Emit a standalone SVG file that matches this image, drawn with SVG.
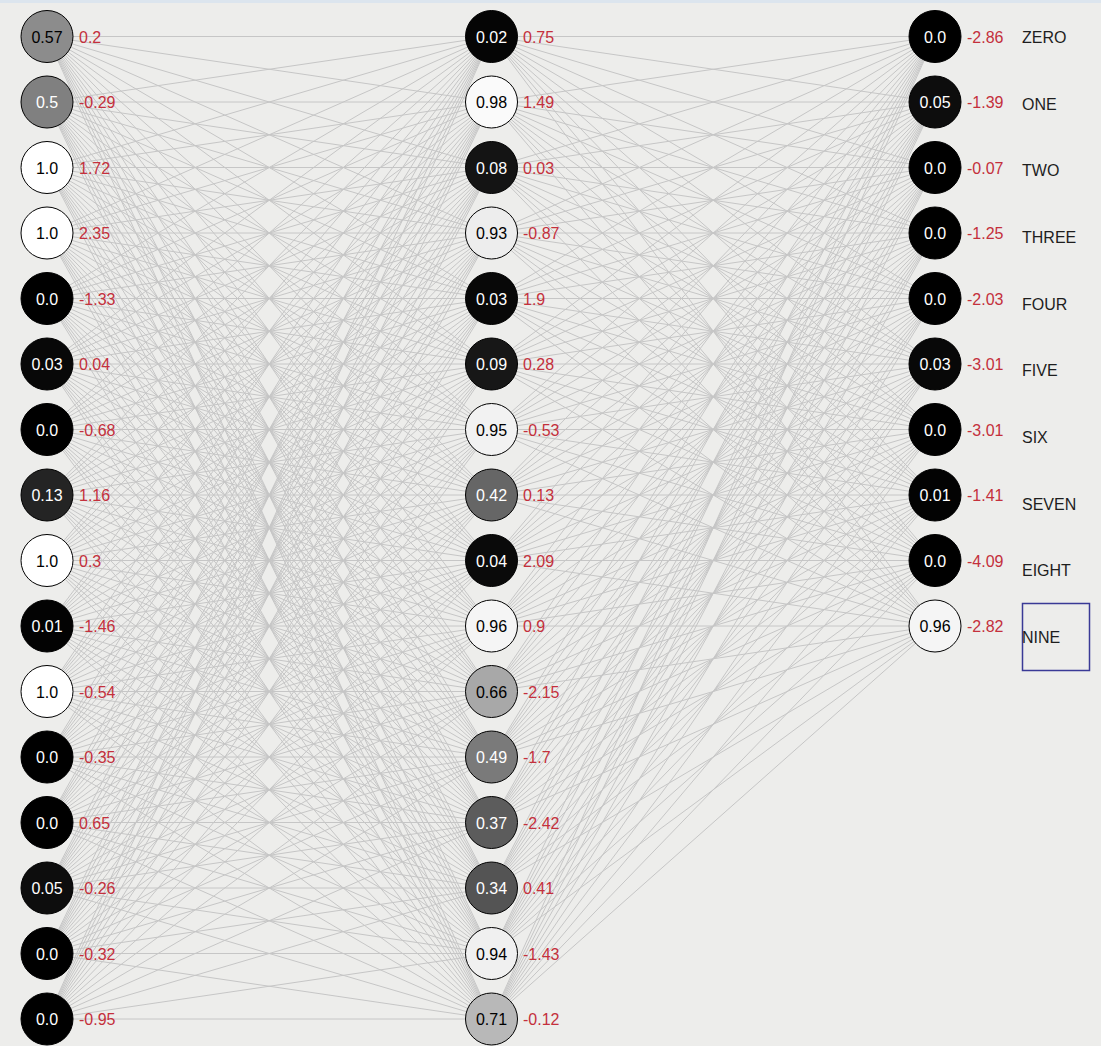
<svg xmlns="http://www.w3.org/2000/svg" width="1101" height="1046" viewBox="0 0 1101 1046">
<style>
text{font-family:"Liberation Sans",Arial,sans-serif;font-size:16px}
.n{stroke:#000;stroke-width:1}
.v{text-anchor:middle}
.w{fill:#fff}
.k{fill:#000}
.b{fill:#c4303c}
.l{fill:#1e1e1e}
.e{fill:none;stroke:#c6c6c6;stroke-width:1}
</style>
<rect width="1101" height="1046" fill="#ededeb"/>
<rect width="1101" height="3" fill="#dce5ee"/>
<g id="connectors" class="e">
<path d="M47 36.5L491.5 36.5M47 36.5L491.5 102M47 36.5L491.5 167.5M47 36.5L491.5 233M47 36.5L491.5 298.5M47 36.5L491.5 364M47 36.5L491.5 429.5M47 36.5L491.5 495M47 36.5L491.5 560.5M47 36.5L491.5 626M47 36.5L491.5 691.5M47 36.5L491.5 757M47 36.5L491.5 822.5M47 36.5L491.5 888M47 36.5L491.5 953.5M47 36.5L491.5 1019"/>
<path d="M47 102L491.5 36.5M47 102L491.5 102M47 102L491.5 167.5M47 102L491.5 233M47 102L491.5 298.5M47 102L491.5 364M47 102L491.5 429.5M47 102L491.5 495M47 102L491.5 560.5M47 102L491.5 626M47 102L491.5 691.5M47 102L491.5 757M47 102L491.5 822.5M47 102L491.5 888M47 102L491.5 953.5M47 102L491.5 1019"/>
<path d="M47 167.5L491.5 36.5M47 167.5L491.5 102M47 167.5L491.5 167.5M47 167.5L491.5 233M47 167.5L491.5 298.5M47 167.5L491.5 364M47 167.5L491.5 429.5M47 167.5L491.5 495M47 167.5L491.5 560.5M47 167.5L491.5 626M47 167.5L491.5 691.5M47 167.5L491.5 757M47 167.5L491.5 822.5M47 167.5L491.5 888M47 167.5L491.5 953.5M47 167.5L491.5 1019"/>
<path d="M47 233L491.5 36.5M47 233L491.5 102M47 233L491.5 167.5M47 233L491.5 233M47 233L491.5 298.5M47 233L491.5 364M47 233L491.5 429.5M47 233L491.5 495M47 233L491.5 560.5M47 233L491.5 626M47 233L491.5 691.5M47 233L491.5 757M47 233L491.5 822.5M47 233L491.5 888M47 233L491.5 953.5M47 233L491.5 1019"/>
<path d="M47 298.5L491.5 36.5M47 298.5L491.5 102M47 298.5L491.5 167.5M47 298.5L491.5 233M47 298.5L491.5 298.5M47 298.5L491.5 364M47 298.5L491.5 429.5M47 298.5L491.5 495M47 298.5L491.5 560.5M47 298.5L491.5 626M47 298.5L491.5 691.5M47 298.5L491.5 757M47 298.5L491.5 822.5M47 298.5L491.5 888M47 298.5L491.5 953.5M47 298.5L491.5 1019"/>
<path d="M47 364L491.5 36.5M47 364L491.5 102M47 364L491.5 167.5M47 364L491.5 233M47 364L491.5 298.5M47 364L491.5 364M47 364L491.5 429.5M47 364L491.5 495M47 364L491.5 560.5M47 364L491.5 626M47 364L491.5 691.5M47 364L491.5 757M47 364L491.5 822.5M47 364L491.5 888M47 364L491.5 953.5M47 364L491.5 1019"/>
<path d="M47 429.5L491.5 36.5M47 429.5L491.5 102M47 429.5L491.5 167.5M47 429.5L491.5 233M47 429.5L491.5 298.5M47 429.5L491.5 364M47 429.5L491.5 429.5M47 429.5L491.5 495M47 429.5L491.5 560.5M47 429.5L491.5 626M47 429.5L491.5 691.5M47 429.5L491.5 757M47 429.5L491.5 822.5M47 429.5L491.5 888M47 429.5L491.5 953.5M47 429.5L491.5 1019"/>
<path d="M47 495L491.5 36.5M47 495L491.5 102M47 495L491.5 167.5M47 495L491.5 233M47 495L491.5 298.5M47 495L491.5 364M47 495L491.5 429.5M47 495L491.5 495M47 495L491.5 560.5M47 495L491.5 626M47 495L491.5 691.5M47 495L491.5 757M47 495L491.5 822.5M47 495L491.5 888M47 495L491.5 953.5M47 495L491.5 1019"/>
<path d="M47 560.5L491.5 36.5M47 560.5L491.5 102M47 560.5L491.5 167.5M47 560.5L491.5 233M47 560.5L491.5 298.5M47 560.5L491.5 364M47 560.5L491.5 429.5M47 560.5L491.5 495M47 560.5L491.5 560.5M47 560.5L491.5 626M47 560.5L491.5 691.5M47 560.5L491.5 757M47 560.5L491.5 822.5M47 560.5L491.5 888M47 560.5L491.5 953.5M47 560.5L491.5 1019"/>
<path d="M47 626L491.5 36.5M47 626L491.5 102M47 626L491.5 167.5M47 626L491.5 233M47 626L491.5 298.5M47 626L491.5 364M47 626L491.5 429.5M47 626L491.5 495M47 626L491.5 560.5M47 626L491.5 626M47 626L491.5 691.5M47 626L491.5 757M47 626L491.5 822.5M47 626L491.5 888M47 626L491.5 953.5M47 626L491.5 1019"/>
<path d="M47 691.5L491.5 36.5M47 691.5L491.5 102M47 691.5L491.5 167.5M47 691.5L491.5 233M47 691.5L491.5 298.5M47 691.5L491.5 364M47 691.5L491.5 429.5M47 691.5L491.5 495M47 691.5L491.5 560.5M47 691.5L491.5 626M47 691.5L491.5 691.5M47 691.5L491.5 757M47 691.5L491.5 822.5M47 691.5L491.5 888M47 691.5L491.5 953.5M47 691.5L491.5 1019"/>
<path d="M47 757L491.5 36.5M47 757L491.5 102M47 757L491.5 167.5M47 757L491.5 233M47 757L491.5 298.5M47 757L491.5 364M47 757L491.5 429.5M47 757L491.5 495M47 757L491.5 560.5M47 757L491.5 626M47 757L491.5 691.5M47 757L491.5 757M47 757L491.5 822.5M47 757L491.5 888M47 757L491.5 953.5M47 757L491.5 1019"/>
<path d="M47 822.5L491.5 36.5M47 822.5L491.5 102M47 822.5L491.5 167.5M47 822.5L491.5 233M47 822.5L491.5 298.5M47 822.5L491.5 364M47 822.5L491.5 429.5M47 822.5L491.5 495M47 822.5L491.5 560.5M47 822.5L491.5 626M47 822.5L491.5 691.5M47 822.5L491.5 757M47 822.5L491.5 822.5M47 822.5L491.5 888M47 822.5L491.5 953.5M47 822.5L491.5 1019"/>
<path d="M47 888L491.5 36.5M47 888L491.5 102M47 888L491.5 167.5M47 888L491.5 233M47 888L491.5 298.5M47 888L491.5 364M47 888L491.5 429.5M47 888L491.5 495M47 888L491.5 560.5M47 888L491.5 626M47 888L491.5 691.5M47 888L491.5 757M47 888L491.5 822.5M47 888L491.5 888M47 888L491.5 953.5M47 888L491.5 1019"/>
<path d="M47 953.5L491.5 36.5M47 953.5L491.5 102M47 953.5L491.5 167.5M47 953.5L491.5 233M47 953.5L491.5 298.5M47 953.5L491.5 364M47 953.5L491.5 429.5M47 953.5L491.5 495M47 953.5L491.5 560.5M47 953.5L491.5 626M47 953.5L491.5 691.5M47 953.5L491.5 757M47 953.5L491.5 822.5M47 953.5L491.5 888M47 953.5L491.5 953.5M47 953.5L491.5 1019"/>
<path d="M47 1019L491.5 36.5M47 1019L491.5 102M47 1019L491.5 167.5M47 1019L491.5 233M47 1019L491.5 298.5M47 1019L491.5 364M47 1019L491.5 429.5M47 1019L491.5 495M47 1019L491.5 560.5M47 1019L491.5 626M47 1019L491.5 691.5M47 1019L491.5 757M47 1019L491.5 822.5M47 1019L491.5 888M47 1019L491.5 953.5M47 1019L491.5 1019"/>
<path d="M491.5 36.5L935 36.5M491.5 36.5L935 102M491.5 36.5L935 167.5M491.5 36.5L935 233M491.5 36.5L935 298.5M491.5 36.5L935 364M491.5 36.5L935 429.5M491.5 36.5L935 495M491.5 36.5L935 560.5M491.5 36.5L935 626"/>
<path d="M491.5 102L935 36.5M491.5 102L935 102M491.5 102L935 167.5M491.5 102L935 233M491.5 102L935 298.5M491.5 102L935 364M491.5 102L935 429.5M491.5 102L935 495M491.5 102L935 560.5M491.5 102L935 626"/>
<path d="M491.5 167.5L935 36.5M491.5 167.5L935 102M491.5 167.5L935 167.5M491.5 167.5L935 233M491.5 167.5L935 298.5M491.5 167.5L935 364M491.5 167.5L935 429.5M491.5 167.5L935 495M491.5 167.5L935 560.5M491.5 167.5L935 626"/>
<path d="M491.5 233L935 36.5M491.5 233L935 102M491.5 233L935 167.5M491.5 233L935 233M491.5 233L935 298.5M491.5 233L935 364M491.5 233L935 429.5M491.5 233L935 495M491.5 233L935 560.5M491.5 233L935 626"/>
<path d="M491.5 298.5L935 36.5M491.5 298.5L935 102M491.5 298.5L935 167.5M491.5 298.5L935 233M491.5 298.5L935 298.5M491.5 298.5L935 364M491.5 298.5L935 429.5M491.5 298.5L935 495M491.5 298.5L935 560.5M491.5 298.5L935 626"/>
<path d="M491.5 364L935 36.5M491.5 364L935 102M491.5 364L935 167.5M491.5 364L935 233M491.5 364L935 298.5M491.5 364L935 364M491.5 364L935 429.5M491.5 364L935 495M491.5 364L935 560.5M491.5 364L935 626"/>
<path d="M491.5 429.5L935 36.5M491.5 429.5L935 102M491.5 429.5L935 167.5M491.5 429.5L935 233M491.5 429.5L935 298.5M491.5 429.5L935 364M491.5 429.5L935 429.5M491.5 429.5L935 495M491.5 429.5L935 560.5M491.5 429.5L935 626"/>
<path d="M491.5 495L935 36.5M491.5 495L935 102M491.5 495L935 167.5M491.5 495L935 233M491.5 495L935 298.5M491.5 495L935 364M491.5 495L935 429.5M491.5 495L935 495M491.5 495L935 560.5M491.5 495L935 626"/>
<path d="M491.5 560.5L935 36.5M491.5 560.5L935 102M491.5 560.5L935 167.5M491.5 560.5L935 233M491.5 560.5L935 298.5M491.5 560.5L935 364M491.5 560.5L935 429.5M491.5 560.5L935 495M491.5 560.5L935 560.5M491.5 560.5L935 626"/>
<path d="M491.5 626L935 36.5M491.5 626L935 102M491.5 626L935 167.5M491.5 626L935 233M491.5 626L935 298.5M491.5 626L935 364M491.5 626L935 429.5M491.5 626L935 495M491.5 626L935 560.5M491.5 626L935 626"/>
<path d="M491.5 691.5L935 36.5M491.5 691.5L935 102M491.5 691.5L935 167.5M491.5 691.5L935 233M491.5 691.5L935 298.5M491.5 691.5L935 364M491.5 691.5L935 429.5M491.5 691.5L935 495M491.5 691.5L935 560.5M491.5 691.5L935 626"/>
<path d="M491.5 757L935 36.5M491.5 757L935 102M491.5 757L935 167.5M491.5 757L935 233M491.5 757L935 298.5M491.5 757L935 364M491.5 757L935 429.5M491.5 757L935 495M491.5 757L935 560.5M491.5 757L935 626"/>
<path d="M491.5 822.5L935 36.5M491.5 822.5L935 102M491.5 822.5L935 167.5M491.5 822.5L935 233M491.5 822.5L935 298.5M491.5 822.5L935 364M491.5 822.5L935 429.5M491.5 822.5L935 495M491.5 822.5L935 560.5M491.5 822.5L935 626"/>
<path d="M491.5 888L935 36.5M491.5 888L935 102M491.5 888L935 167.5M491.5 888L935 233M491.5 888L935 298.5M491.5 888L935 364M491.5 888L935 429.5M491.5 888L935 495M491.5 888L935 560.5M491.5 888L935 626"/>
<path d="M491.5 953.5L935 36.5M491.5 953.5L935 102M491.5 953.5L935 167.5M491.5 953.5L935 233M491.5 953.5L935 298.5M491.5 953.5L935 364M491.5 953.5L935 429.5M491.5 953.5L935 495M491.5 953.5L935 560.5M491.5 953.5L935 626"/>
<path d="M491.5 1019L935 36.5M491.5 1019L935 102M491.5 1019L935 167.5M491.5 1019L935 233M491.5 1019L935 298.5M491.5 1019L935 364M491.5 1019L935 429.5M491.5 1019L935 495M491.5 1019L935 560.5M491.5 1019L935 626"/>
</g>
<g id="in0"><circle class="n" cx="47" cy="36.5" r="26" fill="#8c8c8c"/><text class="v k" x="47" y="42.5">0.57</text><text class="b" x="79" y="42.5">0.2</text></g>
<g id="in1"><circle class="n" cx="47" cy="102" r="26" fill="#808080"/><text class="v w" x="47" y="108">0.5</text><text class="b" x="79" y="108">-0.29</text></g>
<g id="in2"><circle class="n" cx="47" cy="167.5" r="26" fill="#ffffff"/><text class="v k" x="47" y="173.5">1.0</text><text class="b" x="79" y="173.5">1.72</text></g>
<g id="in3"><circle class="n" cx="47" cy="233" r="26" fill="#ffffff"/><text class="v k" x="47" y="239">1.0</text><text class="b" x="79" y="239">2.35</text></g>
<g id="in4"><circle class="n" cx="47" cy="298.5" r="26" fill="#000000"/><text class="v w" x="47" y="304.5">0.0</text><text class="b" x="79" y="304.5">-1.33</text></g>
<g id="in5"><circle class="n" cx="47" cy="364" r="26" fill="#080808"/><text class="v w" x="47" y="370">0.03</text><text class="b" x="79" y="370">0.04</text></g>
<g id="in6"><circle class="n" cx="47" cy="429.5" r="26" fill="#000000"/><text class="v w" x="47" y="435.5">0.0</text><text class="b" x="79" y="435.5">-0.68</text></g>
<g id="in7"><circle class="n" cx="47" cy="495" r="26" fill="#242424"/><text class="v w" x="47" y="501">0.13</text><text class="b" x="79" y="501">1.16</text></g>
<g id="in8"><circle class="n" cx="47" cy="560.5" r="26" fill="#ffffff"/><text class="v k" x="47" y="566.5">1.0</text><text class="b" x="79" y="566.5">0.3</text></g>
<g id="in9"><circle class="n" cx="47" cy="626" r="26" fill="#030303"/><text class="v w" x="47" y="632">0.01</text><text class="b" x="79" y="632">-1.46</text></g>
<g id="in10"><circle class="n" cx="47" cy="691.5" r="26" fill="#ffffff"/><text class="v k" x="47" y="697.5">1.0</text><text class="b" x="79" y="697.5">-0.54</text></g>
<g id="in11"><circle class="n" cx="47" cy="757" r="26" fill="#000000"/><text class="v w" x="47" y="763">0.0</text><text class="b" x="79" y="763">-0.35</text></g>
<g id="in12"><circle class="n" cx="47" cy="822.5" r="26" fill="#000000"/><text class="v w" x="47" y="828.5">0.0</text><text class="b" x="79" y="828.5">0.65</text></g>
<g id="in13"><circle class="n" cx="47" cy="888" r="26" fill="#0d0d0d"/><text class="v w" x="47" y="894">0.05</text><text class="b" x="79" y="894">-0.26</text></g>
<g id="in14"><circle class="n" cx="47" cy="953.5" r="26" fill="#000000"/><text class="v w" x="47" y="959.5">0.0</text><text class="b" x="79" y="959.5">-0.32</text></g>
<g id="in15"><circle class="n" cx="47" cy="1019" r="26" fill="#000000"/><text class="v w" x="47" y="1025">0.0</text><text class="b" x="79" y="1025">-0.95</text></g>
<g id="h0"><circle class="n" cx="491.5" cy="36.5" r="26" fill="#050505"/><text class="v w" x="491.5" y="42.5">0.02</text><text class="b" x="523" y="42.5">0.75</text></g>
<g id="h1"><circle class="n" cx="491.5" cy="102" r="26" fill="#fafafa"/><text class="v k" x="491.5" y="108">0.98</text><text class="b" x="523" y="108">1.49</text></g>
<g id="h2"><circle class="n" cx="491.5" cy="167.5" r="26" fill="#141414"/><text class="v w" x="491.5" y="173.5">0.08</text><text class="b" x="523" y="173.5">0.03</text></g>
<g id="h3"><circle class="n" cx="491.5" cy="233" r="26" fill="#ededed"/><text class="v k" x="491.5" y="239">0.93</text><text class="b" x="523" y="239">-0.87</text></g>
<g id="h4"><circle class="n" cx="491.5" cy="298.5" r="26" fill="#080808"/><text class="v w" x="491.5" y="304.5">0.03</text><text class="b" x="523" y="304.5">1.9</text></g>
<g id="h5"><circle class="n" cx="491.5" cy="364" r="26" fill="#171717"/><text class="v w" x="491.5" y="370">0.09</text><text class="b" x="523" y="370">0.28</text></g>
<g id="h6"><circle class="n" cx="491.5" cy="429.5" r="26" fill="#f2f2f2"/><text class="v k" x="491.5" y="435.5">0.95</text><text class="b" x="523" y="435.5">-0.53</text></g>
<g id="h7"><circle class="n" cx="491.5" cy="495" r="26" fill="#666666"/><text class="v w" x="491.5" y="501">0.42</text><text class="b" x="523" y="501">0.13</text></g>
<g id="h8"><circle class="n" cx="491.5" cy="560.5" r="26" fill="#0a0a0a"/><text class="v w" x="491.5" y="566.5">0.04</text><text class="b" x="523" y="566.5">2.09</text></g>
<g id="h9"><circle class="n" cx="491.5" cy="626" r="26" fill="#f5f5f5"/><text class="v k" x="491.5" y="632">0.96</text><text class="b" x="523" y="632">0.9</text></g>
<g id="h10"><circle class="n" cx="491.5" cy="691.5" r="26" fill="#a8a8a8"/><text class="v k" x="491.5" y="697.5">0.66</text><text class="b" x="523" y="697.5">-2.15</text></g>
<g id="h11"><circle class="n" cx="491.5" cy="757" r="26" fill="#7a7a7a"/><text class="v w" x="491.5" y="763">0.49</text><text class="b" x="523" y="763">-1.7</text></g>
<g id="h12"><circle class="n" cx="491.5" cy="822.5" r="26" fill="#5c5c5c"/><text class="v w" x="491.5" y="828.5">0.37</text><text class="b" x="523" y="828.5">-2.42</text></g>
<g id="h13"><circle class="n" cx="491.5" cy="888" r="26" fill="#545454"/><text class="v w" x="491.5" y="894">0.34</text><text class="b" x="523" y="894">0.41</text></g>
<g id="h14"><circle class="n" cx="491.5" cy="953.5" r="26" fill="#f0f0f0"/><text class="v k" x="491.5" y="959.5">0.94</text><text class="b" x="523" y="959.5">-1.43</text></g>
<g id="h15"><circle class="n" cx="491.5" cy="1019" r="26" fill="#b8b8b8"/><text class="v k" x="491.5" y="1025">0.71</text><text class="b" x="523" y="1025">-0.12</text></g>
<g id="out0"><circle class="n" cx="935" cy="36.5" r="26" fill="#000000"/><text class="v w" x="935" y="42.5">0.0</text><text class="b" x="967" y="42.5">-2.86</text><text class="l" x="1022" y="43">ZERO</text></g>
<g id="out1"><circle class="n" cx="935" cy="102" r="26" fill="#0d0d0d"/><text class="v w" x="935" y="108">0.05</text><text class="b" x="967" y="108">-1.39</text><text class="l" x="1022" y="109.7">ONE</text></g>
<g id="out2"><circle class="n" cx="935" cy="167.5" r="26" fill="#000000"/><text class="v w" x="935" y="173.5">0.0</text><text class="b" x="967" y="173.5">-0.07</text><text class="l" x="1022" y="176.3">TWO</text></g>
<g id="out3"><circle class="n" cx="935" cy="233" r="26" fill="#000000"/><text class="v w" x="935" y="239">0.0</text><text class="b" x="967" y="239">-1.25</text><text class="l" x="1022" y="243">THREE</text></g>
<g id="out4"><circle class="n" cx="935" cy="298.5" r="26" fill="#000000"/><text class="v w" x="935" y="304.5">0.0</text><text class="b" x="967" y="304.5">-2.03</text><text class="l" x="1022" y="309.7">FOUR</text></g>
<g id="out5"><circle class="n" cx="935" cy="364" r="26" fill="#080808"/><text class="v w" x="935" y="370">0.03</text><text class="b" x="967" y="370">-3.01</text><text class="l" x="1022" y="376.3">FIVE</text></g>
<g id="out6"><circle class="n" cx="935" cy="429.5" r="26" fill="#000000"/><text class="v w" x="935" y="435.5">0.0</text><text class="b" x="967" y="435.5">-3.01</text><text class="l" x="1022" y="443">SIX</text></g>
<g id="out7"><circle class="n" cx="935" cy="495" r="26" fill="#030303"/><text class="v w" x="935" y="501">0.01</text><text class="b" x="967" y="501">-1.41</text><text class="l" x="1022" y="509.7">SEVEN</text></g>
<g id="out8"><circle class="n" cx="935" cy="560.5" r="26" fill="#000000"/><text class="v w" x="935" y="566.5">0.0</text><text class="b" x="967" y="566.5">-4.09</text><text class="l" x="1022" y="576.3">EIGHT</text></g>
<g id="out9"><circle class="n" cx="935" cy="626" r="26" fill="#f5f5f5"/><text class="v k" x="935" y="632">0.96</text><text class="b" x="967" y="632">-2.82</text><rect x="1022.5" y="603.5" width="67" height="67" fill="none" stroke="#3a3a96" stroke-width="1.5"/><text class="l" x="1022" y="643">NINE</text></g>
</svg>
